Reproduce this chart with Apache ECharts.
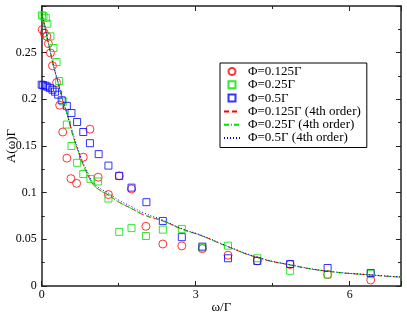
<!DOCTYPE html>
<html><head><meta charset="utf-8">
<script src="https://cdn.jsdelivr.net/npm/echarts@6/dist/echarts.min.js"></script>
<style>html,body{margin:0;padding:0;background:#fff}#c{width:407px;height:315px}</style>
</head><body><div id="c"></div>
<script>
// Data
const redX = [0.01,0.05,0.10,0.13,0.17,0.21,0.29,0.35,0.41,0.49,0.57,0.68,0.81,0.94,1.10,1.30,1.51,1.75,2.03,2.36,2.73,3.13,3.63,4.20,4.84,5.57,6.41];
const redY = [0.2747,0.271,0.2675,0.2597,0.2497,0.236,0.218,0.1937,0.165,0.137,0.115,0.110,0.138,0.168,0.1166,0.098,0.118,0.104,0.064,0.045,0.043,0.040,0.033,0.027,0.023,0.0123,0.0064];
const greenX = [0.005,0.035,0.08,0.11,0.17,0.23,0.29,0.34,0.42,0.49,0.58,0.69,0.81,0.95,1.10,1.30,1.51,1.75,2.03,2.36,2.73,3.13,3.63,4.20,4.84,5.57,6.41];
const greenY = [0.290,0.289,0.287,0.281,0.2675,0.255,0.240,0.2196,0.1977,0.173,0.150,0.132,0.120,0.1148,0.112,0.0937,0.058,0.062,0.0536,0.0604,0.0612,0.041,0.0432,0.0297,0.0163,0.0123,0.0127];
const blueX = [0.00,0.03,0.075,0.11,0.16,0.21,0.26,0.32,0.39,0.49,0.58,0.69,0.81,0.94,1.11,1.30,1.51,1.75,2.04,2.36,2.73,3.13,3.63,4.20,4.84,5.57,6.41];
const blueY = [0.2157,0.2151,0.2146,0.2135,0.212,0.2103,0.2082,0.205,0.199,0.193,0.1853,0.1757,0.165,0.153,0.1413,0.129,0.118,0.1054,0.0898,0.0697,0.0523,0.0422,0.0297,0.0268,0.0236,0.0193,0.014];
const lineX = [0,0.05,0.10,0.16,0.23,0.32,0.42,0.50,0.60,0.70,0.80,0.90,1.00,1.15,1.30,1.50,1.75,2.00,2.36,2.73,3.13,3.63,4.20,4.84,5.57,6.41,7.00];
const line1Y = [0.291,0.281,0.268,0.253,0.236,0.2175,0.197,0.183,0.163,0.146,0.131,0.119,0.109,0.102,0.0975,0.090,0.083,0.076,0.0697,0.061,0.0535,0.042,0.0305,0.0225,0.0158,0.0118,0.0095];
const line2Y = [0.291,0.281,0.268,0.253,0.236,0.2175,0.197,0.183,0.163,0.146,0.131,0.119,0.109,0.102,0.0975,0.090,0.083,0.076,0.0697,0.061,0.0535,0.042,0.0305,0.0225,0.0158,0.0118,0.0095];
const line3Y = [0.291,0.281,0.268,0.253,0.236,0.218,0.198,0.184,0.165,0.148,0.133,0.121,0.111,0.104,0.0995,0.092,0.085,0.078,0.0705,0.0615,0.054,0.0425,0.031,0.0228,0.016,0.012,0.0096];
const names = ['Φ=0.125Γ','Φ=0.25Γ','Φ=0.5Γ','Φ=0.125Γ (4th order)','Φ=0.25Γ (4th order)','Φ=0.5Γ (4th order)'];
const xTicks = {min:0, max:7, interval:3};
const yTicks = {min:0, max:0.3, interval:0.05};

const zip = (xs, ys) => xs.map((x, i) => [x, ys[i]]);
const FONT = 'Liberation Serif';
const AX = '#222';
const SQUARE = 'path://M0,0L10,0L10,10L0,10Z';
const chart = echarts.init(document.getElementById('c'), null, {renderer:'canvas'});
const baseAxis = {
  axisLine:{show:true, onZero:false, lineStyle:{color:AX, width:1.5}},
  axisTick:{show:true, inside:true, length:5, lineStyle:{color:AX, width:1}},
  minorTick:{show:true, splitNumber:2, length:3, lineStyle:{color:AX, width:1}},
  splitLine:{show:false}
};
const scatter = (name, xs, ys, sym, col, size) => ({
  type:'scatter', name, data:zip(xs, ys), symbol:sym, symbolSize:size, symbolKeepAspect:true,
  itemStyle:{color:'rgba(0,0,0,0)', borderColor:col, borderWidth:1},
  z:2
});
const line = (name, ys, col, type) => ({
  type:'line', name, data:zip(lineX, ys), symbol:'none', smooth:true,
  lineStyle:{color:col, width:1, type}, itemStyle:{color:col}, z:3
});
const hidden = {color:'rgba(0,0,0,0)', borderColor:'rgba(0,0,0,0)', borderWidth:0};
chart.setOption({
  animation:false,
  grid:{left:41.7, right:6, top:6, bottom:29, containLabel:false, outerBoundsMode:'none'},
  xAxis:[
    Object.assign({type:'value', min:xTicks.min, max:xTicks.max, interval:xTicks.interval, position:'bottom',
      name:'ω/Γ', nameLocation:'middle', nameGap:15, nameMoveOverlap:false,
      nameTextStyle:{fontFamily:FONT, fontSize:13, color:'#000', verticalAlign:'top'},
      axisLabel:{fontFamily:FONT, fontSize:12, color:'#000', margin:3, showMaxLabel:false}}, baseAxis),
    Object.assign({type:'value', min:xTicks.min, max:xTicks.max, interval:xTicks.interval, position:'top',
      axisLabel:{show:false}}, baseAxis)
  ],
  yAxis:[
    Object.assign({type:'value', min:yTicks.min, max:yTicks.max, interval:yTicks.interval, position:'left',
      name:'A(ω)Γ', nameLocation:'middle', nameGap:24, nameMoveOverlap:false,
      nameTextStyle:{fontFamily:FONT, fontSize:13, color:'#000'},
      axisLabel:{fontFamily:FONT, fontSize:12, color:'#000', margin:5, showMaxLabel:false,
        formatter:v => (v >= 0.299 ? '' : String(+v.toFixed(3)))}}, baseAxis),
    Object.assign({type:'value', min:yTicks.min, max:yTicks.max, interval:yTicks.interval, position:'right',
      axisLabel:{show:false}}, baseAxis)
  ],
  legend:{
    orient:'vertical', left:220, top:63,
    backgroundColor:'#fff', borderColor:'#000', borderWidth:1, borderRadius:0,
    padding:[2,6,3,3], itemGap:0.3, itemWidth:16, itemHeight:7,
    textStyle:{fontFamily:FONT, fontSize:13, color:'#000', padding:[0,0,0,3]},
    data:[
      {name:names[0], icon:'circle'},
      {name:names[1], icon:SQUARE},
      {name:names[2], icon:SQUARE},
      {name:names[3], itemStyle:hidden},
      {name:names[4], itemStyle:hidden},
      {name:names[5], itemStyle:hidden}
    ]
  },
  series:[
    scatter(names[0], redX, redY, 'circle', '#ff0000', 8),
    scatter(names[1], greenX, greenY, 'rect', '#00e000', 7),
    scatter(names[2], blueX, blueY, 'rect', '#0000ff', 7),
    line(names[3], line1Y, '#ff0000', [5,3]),
    line(names[4], line2Y, '#00e000', [5,2,1,2]),
    line(names[5], line3Y, '#0000ff', [1,2])
  ]
});
</script></body></html>
